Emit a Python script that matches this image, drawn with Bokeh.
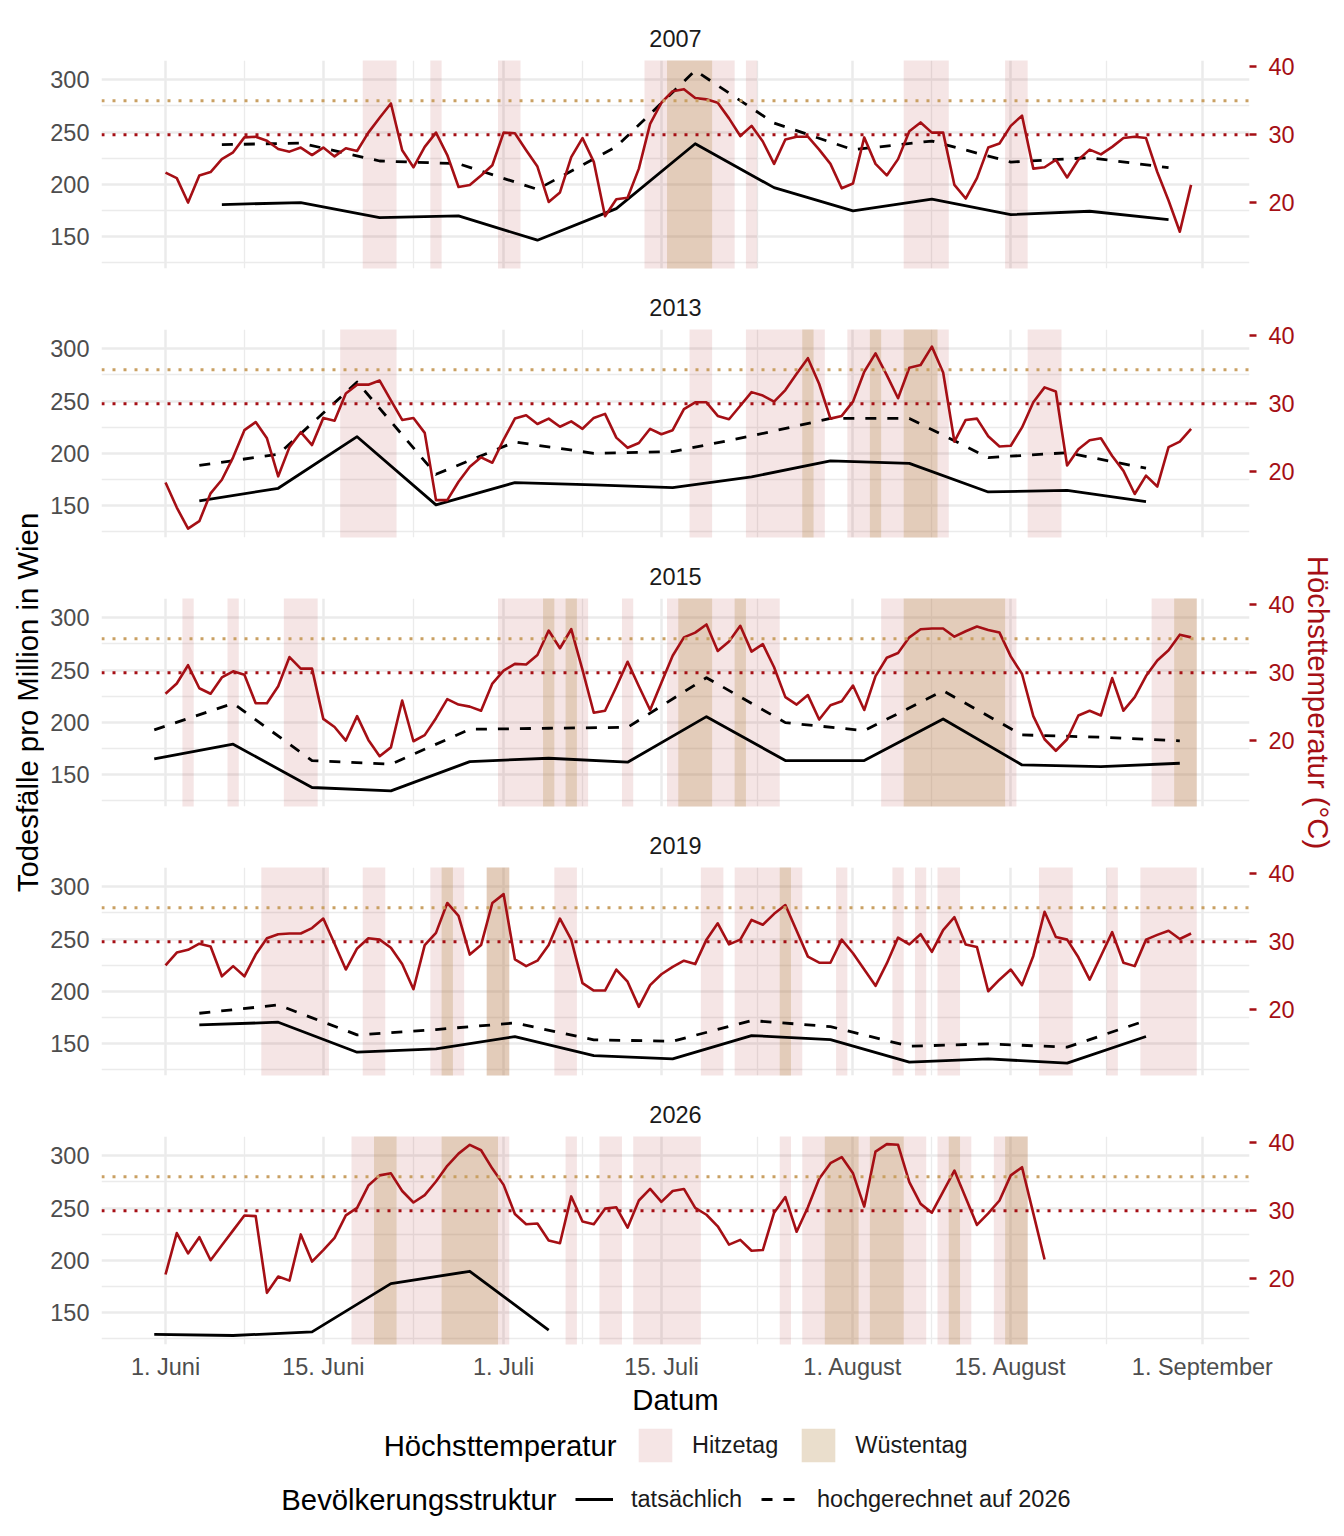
import datetime as dt
from math import pi

import numpy as np
from bokeh.plotting import figure
from bokeh.layouts import column, row
from bokeh.models import Range1d, LinearAxis, FixedTicker, Grid, Span, Legend, LegendItem
from bokeh.core.properties import value
from bokeh.embed import file_html
from bokeh.resources import INLINE

# ---------------------------------------------------------------- data
YEARS = [2007, 2013, 2015, 2019, 2026]

# daily maximum temperature (°C), starting 1 June of each year
TEMP_2007 = [24.4, 23.6, 20.0, 24.0, 24.5, 26.4, 27.4, 29.6, 29.7, 29.1,
             27.9, 27.5, 28.1, 27.0, 28.1, 26.8, 28.0, 27.6, 30.3, 32.5,
             34.6, 27.7, 25.2, 28.2, 30.3, 27.0, 22.3, 22.6, 24.0, 25.5,
             30.3, 30.2, 27.7, 25.3, 20.1, 21.5, 26.7, 29.5, 26.0, 18.0,
             20.5, 20.7, 25.0, 31.6, 34.7, 36.4, 36.7, 35.4, 35.2, 34.7,
             32.4, 29.8, 31.3, 29.0, 25.7, 29.3, 29.7, 29.7, 27.8, 25.7,
             22.1, 22.8, 29.6, 25.7, 24.0, 26.4, 30.5, 31.8, 30.3, 30.3,
             22.6, 20.6, 23.6, 28.1, 28.7, 31.3, 32.8, 25.0, 25.2, 26.3,
             23.7, 26.3, 27.8, 27.1, 28.2, 29.5, 29.7, 29.5, 24.5, 20.3,
             15.7, 22.6]
TEMP_2013 = [18.4, 14.7, 11.6, 12.7, 16.8, 18.8, 22.1, 26.1, 27.3, 24.9,
             19.3, 23.6, 25.8, 23.9, 27.9, 27.5, 31.5, 32.8, 32.8, 33.4,
             30.5, 27.6, 27.9, 25.7, 15.8, 15.8, 18.5, 20.7, 22.1, 21.3,
             24.7, 27.8, 28.3, 27.0, 27.8, 26.6, 27.4, 26.3, 27.9, 28.5,
             25.0, 23.5, 24.2, 26.3, 25.5, 26.1, 29.2, 30.2, 30.2, 28.2,
             27.7, 29.7, 31.7, 31.2, 30.3, 32.0, 34.4, 36.7, 32.9, 27.8,
             28.2, 30.3, 34.7, 37.4, 34.2, 30.8, 35.3, 35.7, 38.4, 34.6,
             24.4, 27.6, 27.8, 25.2, 23.7, 23.8, 26.5, 30.2, 32.4, 31.8,
             20.9, 23.3, 24.6, 24.9, 22.3, 20.1, 16.7, 19.4, 17.8, 23.6,
             24.4, 26.3]
TEMP_2015 = [26.9, 28.4, 31.1, 27.7, 26.9, 29.3, 30.2, 29.7, 25.5, 25.5,
             28.0, 32.3, 30.6, 30.6, 23.2, 22.0, 20.0, 23.6, 20.1, 17.7,
             19.0, 25.9, 19.9, 20.8, 23.3, 26.1, 25.3, 25.0, 24.4, 28.4,
             30.3, 31.3, 31.2, 32.6, 36.2, 33.6, 36.4, 30.4, 24.1, 24.4,
             27.9, 31.6, 28.0, 24.5, 28.5, 32.5, 35.2, 35.9, 37.1, 33.2,
             34.6, 36.9, 33.1, 34.2, 30.8, 26.4, 25.3, 26.7, 23.1, 25.2,
             25.8, 28.1, 24.5, 29.5, 32.2, 32.9, 35.2, 36.4, 36.5, 36.5,
             35.3, 36.1, 36.8, 36.3, 35.9, 32.4, 29.8, 23.6, 20.2, 18.5,
             20.2, 23.7, 24.4, 23.7, 29.2, 24.4, 26.4, 29.5, 31.8, 33.3,
             35.6, 35.2]
TEMP_2019 = [26.5, 28.4, 28.8, 29.7, 29.3, 24.9, 26.4, 24.9, 28.1, 30.5,
             31.1, 31.2, 31.2, 32.0, 33.4, 29.7, 25.9, 29.0, 30.5, 30.3,
             29.1, 26.7, 23.0, 29.5, 31.3, 35.7, 33.8, 28.1, 29.5, 35.7,
             37.0, 27.4, 26.4, 27.2, 29.5, 33.4, 30.3, 23.9, 22.8, 22.8,
             25.9, 24.1, 20.4, 23.6, 25.2, 26.3, 27.2, 26.7, 30.3, 32.7,
             29.6, 30.3, 33.2, 32.5, 34.1, 35.4, 31.6, 27.8, 26.9, 26.9,
             30.3, 28.3, 25.9, 23.5, 26.8, 30.6, 29.6, 31.1, 28.5, 31.7,
             33.6, 29.6, 29.2, 22.7, 24.4, 25.9, 23.6, 27.9, 34.4, 30.7,
             30.3, 27.7, 24.4, 27.9, 31.4, 26.9, 26.4, 30.3, 31.0, 31.6,
             30.4, 31.2]
TEMP_2026 = [20.6, 26.7, 23.7, 26.1, 22.7, 24.9, 27.1, 29.3, 29.2, 17.9,
             20.3, 19.7, 26.5, 22.5, 24.2, 26.0, 29.3, 30.4, 33.7, 35.2,
             35.5, 32.9, 31.2, 32.3, 34.3, 36.6, 38.4, 39.7, 38.9, 36.2,
             33.8, 29.5, 28.0, 28.1, 25.6, 25.2, 32.1, 28.4, 28.0, 30.3,
             30.5, 27.5, 31.5, 33.2, 31.3, 32.9, 33.2, 30.4, 29.4, 27.7,
             25.0, 25.7, 24.1, 24.2, 29.7, 32.0, 26.9, 30.5, 34.7, 37.0,
             37.9, 35.5, 30.6, 38.7, 39.8, 39.7, 34.2, 31.0, 29.7, 32.8,
             35.9, 31.9, 27.9, 29.6, 31.5, 35.2, 36.4, 29.6, 22.8]

# weekly deaths per million (actual / projected onto 2026 population)
WEEKS_2007 = ["2007-06-06", "2007-06-13", "2007-06-20", "2007-06-27", "2007-07-04",
              "2007-07-11", "2007-07-18", "2007-07-25", "2007-08-01", "2007-08-08",
              "2007-08-15", "2007-08-22", "2007-08-29"]
ACTUAL_2007 = [180.6, 182.5, 168.1, 169.7, 146.5, 176.7, 238.8, 196.8, 174.5, 185.7, 171.0, 174.2, 166.2]
PROJ_2007 = [237.9, 239.5, 222.3, 219.7, 195.2, 236.0, 308.9, 258.6, 233.1, 241.4, 221.3, 225.5, 215.9]

WEEKS_2013 = ["2013-06-04", "2013-06-11", "2013-06-18", "2013-06-25", "2013-07-02",
              "2013-07-09", "2013-07-16", "2013-07-23", "2013-07-30", "2013-08-06",
              "2013-08-13", "2013-08-20", "2013-08-27"]
ACTUAL_2013 = [154.4, 166.5, 215.9, 150.6, 172.0, 169.7, 167.2, 177.4, 192.7, 190.4, 163.0, 164.6, 153.8]
PROJ_2013 = [188.5, 199.0, 268.2, 179.9, 210.8, 200.0, 201.6, 216.6, 233.4, 233.4, 195.9, 200.6, 185.7]

WEEKS_2015 = ["2015-05-31", "2015-06-07", "2015-06-14", "2015-06-21", "2015-06-28",
              "2015-07-05", "2015-07-12", "2015-07-19", "2015-07-26", "2015-08-02",
              "2015-08-09", "2015-08-16", "2015-08-23", "2015-08-30"]
ACTUAL_2015 = [165.0, 179.0, 137.6, 134.4, 162.4, 165.6, 161.8, 205.4, 163.4, 163.4, 203.2, 159.2, 157.6, 160.8]
PROJ_2015 = [192.7, 218.1, 163.4, 159.9, 193.3, 194.3, 195.2, 242.7, 199.7, 192.0, 230.2, 187.9, 185.7, 182.2]

WEEKS_2019 = ["2019-06-04", "2019-06-11", "2019-06-18", "2019-06-25", "2019-07-02",
              "2019-07-09", "2019-07-16", "2019-07-23", "2019-07-30", "2019-08-06",
              "2019-08-13", "2019-08-20", "2019-08-27"]
ACTUAL_2019 = [167.8, 170.4, 141.7, 144.9, 156.7, 138.5, 135.3, 157.6, 153.8, 132.2, 135.3, 131.2, 156.7]
PROJ_2019 = [179.0, 186.9, 158.3, 163.4, 169.7, 153.5, 152.2, 172.0, 166.2, 147.4, 149.7, 146.5, 172.0]

WEEKS_2026 = ["2026-05-31", "2026-06-07", "2026-06-14", "2026-06-21", "2026-06-28", "2026-07-05"]
ACTUAL_2026 = [129.0, 128.0, 131.5, 177.7, 189.5, 133.1]
PROJ_2026 = []

TEMPS = {2007: TEMP_2007, 2013: TEMP_2013, 2015: TEMP_2015, 2019: TEMP_2019, 2026: TEMP_2026}
WEEKS = {2007: WEEKS_2007, 2013: WEEKS_2013, 2015: WEEKS_2015, 2019: WEEKS_2019, 2026: WEEKS_2026}
ACTUAL = {2007: ACTUAL_2007, 2013: ACTUAL_2013, 2015: ACTUAL_2015, 2019: ACTUAL_2019, 2026: ACTUAL_2026}
PROJ = {2007: PROJ_2007, 2013: PROJ_2013, 2015: PROJ_2015, 2019: PROJ_2019, 2026: PROJ_2026}

HITZE_T = 30   # Hitzetag
WUESTE_T = 35  # Wüstentag

XTICK_DATES = ["06-01", "06-15", "07-01", "07-15", "08-01", "08-15", "09-01"]
XTICK_LABELS = ["1. Juni", "15. Juni", "1. Juli", "15. Juli", "1. August", "15. August", "1. September"]
YTICKS = [150, 200, 250, 300]
YMINOR = [125, 175, 225, 275]
TTICKS = [20, 30, 40]

LEGEND_TITLES = ["Höchsttemperatur", "Bevölkerungsstruktur"]
LEGEND_TEMP_LABELS = ["Hitzetag", "Wüstentag"]
LEGEND_POP_LABELS = ["tatsächlich", "hochgerechnet auf 2026"]

# ---------------------------------------------------------------- style
FONT = "Liberation Sans"
RED = "#A50F15"
TAN = "#B99155"
TAN_LINE = "#C9A063"
GRID = "#EBEBEB"
AXIS_TXT = "#4D4D4D"
TICK_FS = "23.5px"
TITLE_FS = "29.3px"

STRIP_L = 44
STRIP_R = 44
PANEL_W = 1344 - STRIP_L - STRIP_R
PANEL_STEP = 269
FRAME_TOP = 60
FRAME_H = 208
GAP_BOTTOM = PANEL_STEP - FRAME_TOP - FRAME_H
LAST_BOTTOM = 80
LEG_H = 112
BORDER_L = 101 - STRIP_L
BORDER_R = (1344 - STRIP_R) - 1249
FRAME_W = PANEL_W - BORDER_L - BORDER_R

PX_PER_DAY = 11.27
X0 = -5.68
X1 = X0 + FRAME_W / PX_PER_DAY
Y0, Y1 = 119.4, 318.5
# secondary axis: deaths = 6.5 * temp + 52.5
SEC_A, SEC_B = 6.5, 52.5
T0, T1 = (Y0 - SEC_B) / SEC_A, (Y1 - SEC_B) / SEC_A


def day_of(s, year):
    d = dt.date.fromisoformat(s)
    return (d - dt.date(year, 6, 1)).days


XTICKS = [(dt.date(2001, int(s[:2]), int(s[3:])) - dt.date(2001, 6, 1)).days for s in XTICK_DATES]
XMINOR = [(a + b) / 2 for a, b in zip(XTICKS[:-1], XTICKS[1:])]


def runs(temps, thr):
    lefts, rights = [], []
    start = None
    for d, t in enumerate(temps):
        if t >= thr and start is None:
            start = d
        if t < thr and start is not None:
            lefts.append(start - 0.5)
            rights.append(d - 0.5)
            start = None
    if start is not None:
        lefts.append(start - 0.5)
        rights.append(len(temps) - 0.5)
    return lefts, rights


def hitze_style():
    return dict(fill_color=RED, fill_alpha=0.11, line_color=None)


def wueste_style():
    return dict(fill_color=TAN, fill_alpha=0.3, line_color=None)


ACT_STYLE = dict(line_color="black", line_width=2.8, line_join="round")
PROJ_STYLE = dict(line_color="black", line_width=2.8, line_join="round", line_dash="11 11")

panels = []
for i, year in enumerate(YEARS):
    last = i == len(YEARS) - 1
    bottom = LAST_BOTTOM if last else GAP_BOTTOM
    p = figure(width=PANEL_W, height=FRAME_TOP + FRAME_H + bottom,
               x_range=Range1d(X0, X1), y_range=Range1d(Y0, Y1),
               output_backend="svg", toolbar_location=None,
               x_axis_location="below" if last else None,
               min_border_left=BORDER_L, min_border_right=BORDER_R,
               min_border_top=FRAME_TOP, min_border_bottom=bottom,
               title=str(year))
    p.outline_line_color = None
    p.background_fill_color = "white"
    p.border_fill_color = "white"
    p.title.align = "center"
    p.title.text_font = FONT
    p.title.text_font_size = TICK_FS
    p.title.text_font_style = "normal"
    p.title.text_color = "#1A1A1A"
    p.title.standoff = 27

    yax = p.yaxis[0]
    yax.ticker = FixedTicker(ticks=YTICKS, minor_ticks=YMINOR)
    yax.axis_line_color = None
    yax.major_tick_line_color = None
    yax.minor_tick_line_color = None
    yax.major_tick_out = 0
    yax.major_tick_in = 0
    yax.minor_tick_out = 0
    yax.minor_tick_in = 0
    yax.major_label_text_font = FONT
    yax.major_label_text_font_size = TICK_FS
    yax.major_label_text_color = AXIS_TXT
    yax.major_label_standoff = 12

    for g in p.ygrid:
        g.grid_line_color = GRID
        g.grid_line_width = 2.5
        g.minor_grid_line_color = GRID
        g.minor_grid_line_width = 1.3

    xgrids = list(p.xgrid)
    if not xgrids:
        g = Grid(dimension=0)
        p.add_layout(g, "center")
        xgrids = [g]
    for g in xgrids:
        g.ticker = FixedTicker(ticks=XTICKS, minor_ticks=XMINOR)
        g.grid_line_color = GRID
        g.grid_line_width = 2.5
        g.minor_grid_line_color = GRID
        g.minor_grid_line_width = 1.3

    if last:
        xax = p.xaxis[0]
        xax.ticker = FixedTicker(ticks=XTICKS, minor_ticks=XMINOR)
        xax.major_label_overrides = {t: lab for t, lab in zip(XTICKS, XTICK_LABELS)}
        xax.axis_line_color = None
        xax.major_tick_line_color = None
        xax.minor_tick_line_color = None
        xax.major_tick_out = 0
        xax.major_tick_in = 0
        xax.minor_tick_out = 0
        xax.minor_tick_in = 0
        xax.major_label_text_font = FONT
        xax.major_label_text_font_size = TICK_FS
        xax.major_label_text_color = AXIS_TXT
        xax.major_label_standoff = 9
        xax.axis_label = "Datum"
        xax.axis_label_text_font = FONT
        xax.axis_label_text_font_size = TITLE_FS
        xax.axis_label_text_font_style = "normal"
        xax.axis_label_text_color = "#000000"
        xax.axis_label_standoff = 0

    p.extra_y_ranges = {"temp": Range1d(T0, T1)}
    rax = LinearAxis(y_range_name="temp", ticker=FixedTicker(ticks=TTICKS))
    rax.axis_line_color = None
    rax.major_tick_line_color = RED
    rax.major_tick_line_width = 2.5
    rax.major_tick_out = 7
    rax.major_tick_in = 0
    rax.minor_tick_line_color = None
    rax.minor_tick_out = 0
    rax.minor_tick_in = 0
    rax.major_label_text_font = FONT
    rax.major_label_text_font_size = TICK_FS
    rax.major_label_text_color = RED
    rax.major_label_standoff = 12
    p.add_layout(rax, "right")

    temps = TEMPS[year]
    days = list(range(len(temps)))

    hl, hr = runs(temps, HITZE_T)
    wl, wr = runs(temps, WUESTE_T)
    p.quad(left=hl, right=hr, bottom=Y0 - 20, top=Y1 + 20, **hitze_style())
    p.quad(left=wl, right=wr, bottom=Y0 - 20, top=Y1 + 20, **wueste_style())

    for thr, col in ((HITZE_T, RED), (WUESTE_T, TAN_LINE)):
        sp = Span(location=thr, dimension="width", y_range_name="temp",
                  line_color=col, line_width=3, line_dash="3 8", level="glyph")
        p.add_layout(sp)

    wx = [day_of(s, year) for s in WEEKS[year]]
    p.line(x=wx, y=ACTUAL[year], **ACT_STYLE)
    if PROJ[year]:
        p.line(x=wx[:len(PROJ[year])], y=PROJ[year], **PROJ_STYLE)
    p.line(x=days, y=temps, y_range_name="temp", line_color=RED, line_width=2.6, line_join="round")

    panels.append(p)

# ---------------------------------------------------------------- legend area
# its frame is aligned with the panels' frames (page x 101 .. 1249)
lf = figure(width=PANEL_W, height=LEG_H, x_range=Range1d(0, FRAME_W), y_range=Range1d(0, LEG_H),
            output_backend="svg", toolbar_location=None,
            min_border_left=BORDER_L, min_border_right=BORDER_R,
            min_border_top=0, min_border_bottom=0,
            x_axis_location=None, y_axis_location=None)
lf.outline_line_color = None
lf.background_fill_color = "white"
lf.border_fill_color = "white"
for g in lf.grid:
    g.visible = False

# legend key proxies (a single non-drawn point each, so the keys get their styles)
NA = np.array([np.nan])
k_h = lf.quad(left=NA, right=NA, bottom=NA, top=NA, **hitze_style())
k_w = lf.quad(left=NA, right=NA, bottom=NA, top=NA, **wueste_style())
k_a = lf.line(x=NA, y=NA, **ACT_STYLE)
k_p = lf.line(x=NA, y=NA, **PROJ_STYLE)

# legend titles (right-aligned just before the keys)
lf.text(x=[515, 455], y=[91, 37], text=LEGEND_TITLES, text_align="right", text_baseline="middle",
        text_font=value(FONT), text_font_size=TITLE_FS, text_color="#000000")


def make_legend(items, loc, gw, gh, standoff):
    leg = Legend(items=items, location=loc, orientation="horizontal")
    leg.border_line_color = None
    leg.background_fill_alpha = 0
    leg.glyph_width = gw
    leg.glyph_height = gh
    leg.label_height = gh
    leg.label_text_font = FONT
    leg.label_text_font_size = TICK_FS
    leg.label_text_color = "#1A1A1A"
    leg.label_standoff = standoff
    leg.spacing = 19
    leg.padding = 0
    leg.margin = 0
    return leg


leg1 = make_legend([LegendItem(label=value(LEGEND_TEMP_LABELS[0]), renderers=[k_h]),
                    LegendItem(label=value(LEGEND_TEMP_LABELS[1]), renderers=[k_w])],
                   (533, 70), 42, 42, 16)
leg2 = make_legend([LegendItem(label=value(LEGEND_POP_LABELS[0]), renderers=[k_a]),
                    LegendItem(label=value(LEGEND_POP_LABELS[1]), renderers=[k_p])],
                   (474, 23), 38, 28, 18)
lf.add_layout(leg1)
lf.add_layout(leg2)

TOTAL_H = sum(pp.height for pp in panels) + LEG_H
LABEL_Y = TOTAL_H - (2 * PANEL_STEP + FRAME_TOP + FRAME_H / 2)


def strip(text, color, angle, width, x):
    s = figure(width=width, height=TOTAL_H, x_range=Range1d(0, width), y_range=Range1d(0, TOTAL_H),
               output_backend="svg", toolbar_location=None, min_border=0,
               x_axis_location=None, y_axis_location=None)
    s.outline_line_color = None
    for g in s.grid:
        g.visible = False
    s.text(x=[x], y=[LABEL_Y], text=[text], angle=angle, text_align="center",
           text_baseline="middle", text_font=value(FONT), text_font_size=TITLE_FS,
           text_color=color)
    return s


left = strip("Todesfälle pro Million in Wien", "#000000", pi / 2, STRIP_L, 27)
right = strip("Höchsttemperatur (°C)", RED, -pi / 2, STRIP_R, 18)

layout = row(left, column(*panels, lf), right)
open("out.html", "w").write(file_html(layout, INLINE))
